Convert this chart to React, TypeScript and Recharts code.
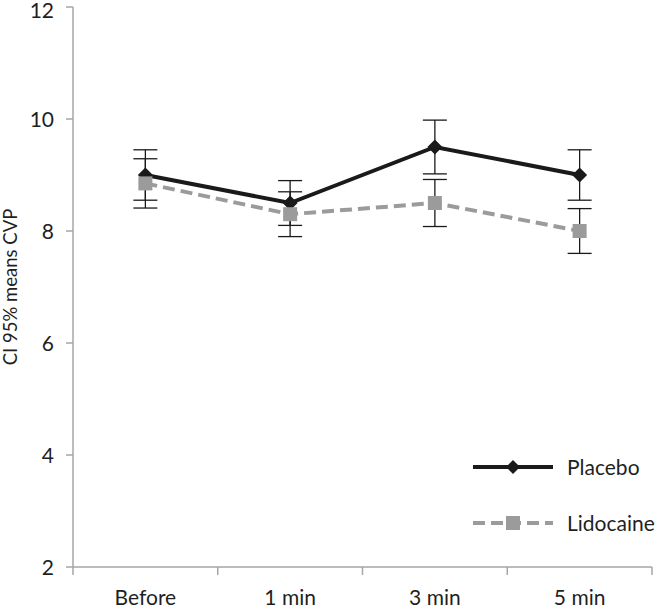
import React from 'react';
import { LineChart, Line, XAxis, YAxis, ErrorBar, Legend } from 'recharts';

const categories = ['Before', '1 min', '3 min', '5 min'];
const placeboMeans = [9.0, 8.5, 9.5, 9.0];
const placeboCI = [0.45, 0.4, 0.48, 0.45];
const lidocaineMeans = [8.85, 8.3, 8.5, 8.0];
const lidocaineCI = [0.44, 0.4, 0.42, 0.4];
const yTicks = [2, 4, 6, 8, 10, 12];
const seriesNames = ['Placebo', 'Lidocaine'];
const yLabel = 'CI 95% means CVP';

const data = categories.map((c, i) => ({
  pos: i + 0.5,
  name: c,
  placebo: placeboMeans[i],
  placeboErr: placeboCI[i],
  lidocaine: lidocaineMeans[i],
  lidocaineErr: lidocaineCI[i],
}));

const xTicks: number[] = [];
for (let i = 0; i <= categories.length * 2; i++) xTicks.push(i / 2);

const AXIS = '#a6a6a6';
const TEXT = '#1f1f1f';
const BLACK = '#1a1a1a';
const GRAY = '#9b9b9b';
const FONT = 'Lato, "Open Sans", sans-serif';
const FS = 21;

const XTick = (props: any) => {
  const { x, y, payload } = props;
  const v = payload.value;
  if (Number.isInteger(v)) {
    return <line x1={x} y1={y} x2={x} y2={y + 8} stroke={AXIS} strokeWidth={1.5} />;
  }
  return (
    <text x={x} y={y + 38} textAnchor="middle" fill={TEXT} fontSize={FS} fontFamily={FONT}>
      {categories[Math.floor(v)]}
    </text>
  );
};

const YTick = (props: any) => {
  const { x, y, payload } = props;
  const yy = Math.max(y, 10);
  return (
    <text x={x} y={yy} dy="0.36em" textAnchor="end" fill={TEXT} fontSize={FS} fontFamily={FONT}>
      {payload.value}
    </text>
  );
};

const Diamond = (props: any) => {
  const { cx, cy, index } = props;
  if (cx == null || cy == null) return null;
  const r = 7.5;
  return (
    <polygon
      key={`d${index}`}
      points={`${cx},${cy - r} ${cx + r},${cy} ${cx},${cy + r} ${cx - r},${cy}`}
      fill={BLACK}
    />
  );
};

const Square = (props: any) => {
  const { cx, cy, index } = props;
  if (cx == null || cy == null) return null;
  const h = 7;
  return <rect key={`s${index}`} x={cx - h} y={cy - h} width={2 * h} height={2 * h} fill={GRAY} />;
};

const LegendContent = () => (
  <div style={{ fontFamily: FONT, fontSize: FS, color: TEXT }}>
    {seriesNames.map((n, i) => (
      <div key={n} style={{ display: 'flex', alignItems: 'center', height: 56 }}>
        <svg width={82} height={20} style={{ display: 'block' }}>
          {i === 0 ? (
            <>
              <line x1={1} y1={10} x2={81} y2={10} stroke={BLACK} strokeWidth={4} />
              <polygon points="41,3 48,10 41,17 34,10" fill={BLACK} />
            </>
          ) : (
            <>
              <line x1={1} y1={10} x2={81} y2={10} stroke={GRAY} strokeWidth={4} strokeDasharray="12 6" />
              <rect x={34} y={3} width={14} height={14} fill={GRAY} />
            </>
          )}
        </svg>
        <span style={{ marginLeft: 13, lineHeight: '20px' }}>{n}</span>
      </div>
    ))}
  </div>
);

export default function App() {
  return (
    <div style={{ position: 'absolute', left: 0, top: 0, width: 655, height: 608, background: '#fff' }}>
      <LineChart width={655} height={608} data={data} margin={{ top: 7, right: 3, bottom: 0, left: 0 }}>
        <XAxis
          dataKey="pos"
          type="number"
          domain={[0, categories.length]}
          ticks={xTicks}
          interval={0}
          tick={<XTick />}
          tickLine={false}
          tickSize={0}
          tickMargin={0}
          height={41}
          axisLine={{ stroke: AXIS, strokeWidth: 1.5 }}
        />
        <YAxis
          type="number"
          domain={[2, 12]}
          ticks={yTicks}
          interval={0}
          width={73}
          tickSize={7}
          tickMargin={12}
          tickLine={{ stroke: AXIS, strokeWidth: 1.5 }}
          axisLine={{ stroke: AXIS, strokeWidth: 1.5 }}
          tick={<YTick />}
          label={{
            content: () => (
              <text
                x={10}
                y={287}
                transform="rotate(-90, 10, 287)"
                textAnchor="middle"
                dominantBaseline="central"
                fill={TEXT}
                fontSize={18.5}
                fontFamily={FONT}
              >
                {yLabel}
              </text>
            ),
          }}
        />
        <Legend
          layout="vertical"
          align="center"
          verticalAlign="middle"
          content={<LegendContent />}
          wrapperStyle={{ left: 472, top: 439, width: 200, height: 112 }}
        />
        <Line
          dataKey="placebo"
          name={seriesNames[0]}
          type="linear"
          stroke={BLACK}
          strokeWidth={4}
          dot={<Diamond />}
          activeDot={false}
          isAnimationActive={false}
        >
          <ErrorBar dataKey="placeboErr" direction="y" width={12} stroke={BLACK} strokeWidth={1.3} />
        </Line>
        <Line
          dataKey="lidocaine"
          name={seriesNames[1]}
          type="linear"
          stroke={GRAY}
          strokeWidth={4}
          strokeDasharray="12 6"
          dot={<Square />}
          activeDot={false}
          isAnimationActive={false}
        >
          <ErrorBar dataKey="lidocaineErr" direction="y" width={12} stroke={BLACK} strokeWidth={1.3} />
        </Line>
      </LineChart>
    </div>
  );
}
